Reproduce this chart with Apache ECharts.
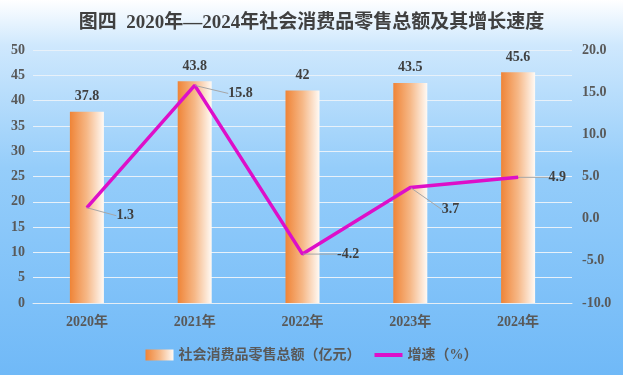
<!DOCTYPE html>
<html><head><meta charset="utf-8">
<script src="https://cdn.jsdelivr.net/npm/echarts@6/dist/echarts.min.js"></script>
<style>html,body{margin:0;padding:0;}#c{width:623px;height:375px;}</style>
</head><body><div id="c"></div>
<script>
var categories = ['2020年','2021年','2022年','2023年','2024年'];
var salesValues = [37.8, 43.8, 42, 43.5, 45.6];
var growthValues = [1.3, 15.8, -4.2, 3.7, 4.9];
var leftTicks = {min: 0, max: 50, interval: 5};
var rightTicks = {min: -10, max: 20, interval: 5};
var titleText = '图四  2020年—2024年社会消费品零售总额及其增长速度';
var barName = '社会消费品零售总额（亿元）';
var lineName = '增速（%）';

var labelOffsets = [[27, 8], [31, 8], [32, 0], [29, 22], [28, 0]];
var serif = '"Liberation Serif", "Times New Roman", "Noto Sans CJK SC", serif';

var chart = echarts.init(document.getElementById('c'));
var barGrad = new echarts.graphic.LinearGradient(0, 0, 1, 0, [
  {offset: 0, color: '#ef8437'},
  {offset: 0.5, color: '#f6b887'},
  {offset: 1, color: '#fffaf5'}
]);
chart.setOption({
  backgroundColor: new echarts.graphic.LinearGradient(0, 0, 0, 1, [
    {offset: 0, color: '#ffffff'},
    {offset: 0.12, color: '#cfe8fd'},
    {offset: 0.45, color: '#95cdfa'},
    {offset: 1, color: '#70b9f7'}
  ]),
  animation: false,
  title: {
    text: titleText, left: 'center', top: 9,
    textStyle: {fontFamily: serif, fontSize: 19, fontWeight: 'bold', color: '#404040'}
  },
  legend: {
    bottom: 8, left: 'center', itemGap: 14, itemWidth: 28, itemHeight: 11,
    textStyle: {fontFamily: serif, fontSize: 14, color: '#595959', fontWeight: 'bold'},
    data: [{name: barName, icon: 'rect'}, {name: lineName, icon: 'path://M0,0H28V4H0Z'}]
  },
  grid: {left: 33, right: 51, top: 50, bottom: 72},
  xAxis: {
    type: 'category', data: categories,
    axisLine: {show: true, lineStyle: {color: '#e6eef5', width: 1}},
    axisTick: {show: false},
    axisLabel: {fontFamily: serif, fontSize: 14, fontWeight: 'bold', color: '#595959', margin: 12}
  },
  yAxis: [{
    type: 'value', min: leftTicks.min, max: leftTicks.max, interval: leftTicks.interval,
    splitLine: {lineStyle: {color: '#e8f1f9', width: 1}},
    axisLine: {show: false}, axisTick: {show: false},
    axisLabel: {fontFamily: serif, fontSize: 14, fontWeight: 'bold', color: '#595959', margin: 8}
  }, {
    type: 'value', min: rightTicks.min, max: rightTicks.max, interval: rightTicks.interval,
    splitLine: {show: false}, axisLine: {show: false}, axisTick: {show: false},
    axisLabel: {fontFamily: serif, fontSize: 14, fontWeight: 'bold', color: '#595959', margin: 10,
      formatter: function (v) { return v.toFixed(1); }}
  }],
  series: [{
    name: barName, type: 'bar', data: salesValues, barWidth: 34,
    itemStyle: {color: barGrad},
    label: {show: true, position: 'top', distance: 8, fontFamily: serif, fontSize: 14, fontWeight: 'bold', color: '#404040'}
  }, {
    name: lineName, type: 'line', yAxisIndex: 1, data: growthValues,
    symbol: 'circle', symbolSize: 1, showSymbol: true,
    lineStyle: {color: '#dd0fc9', width: 3.5}, itemStyle: {color: '#dd0fc9'},
    label: {show: true, position: 'right', fontFamily: serif, fontSize: 14, fontWeight: 'bold', color: '#404040', distance: 2},
    labelLine: {show: true, lineStyle: {color: '#a6a6a6', width: 1}},
    labelLayout: function (p) {
      var o = labelOffsets[p.dataIndex];
      return {dx: o[0], dy: o[1]};
    }
  }]
});
</script></body></html>
